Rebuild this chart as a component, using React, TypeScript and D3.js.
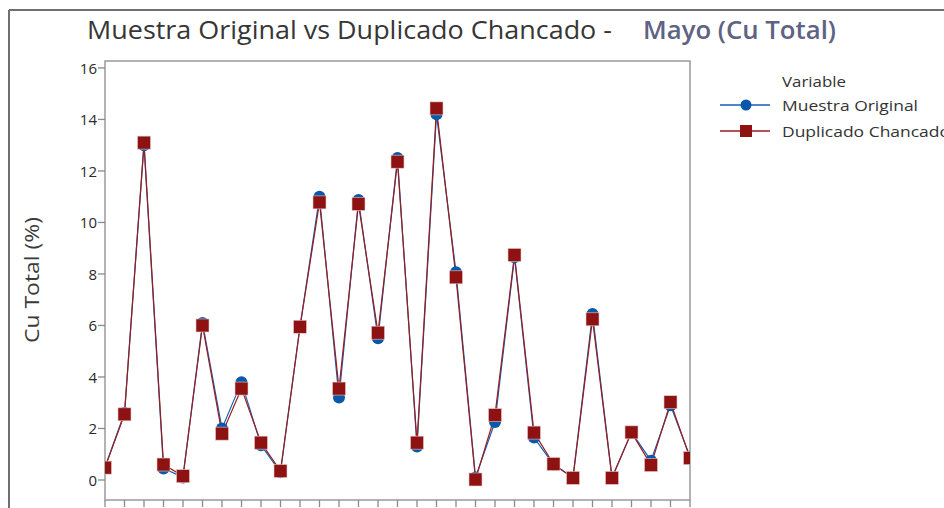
import React from "react";
import * as d3 from "d3";

const indices: number[] = Array.from({ length: 31 }, (_, i) => i);
const muestraOriginal: number[] = [
  0.5, 2.6, 13.0, 0.45, 0.1, 6.1, 2.0, 3.8, 1.35, 0.3, 5.95, 11.0, 3.2, 10.87, 5.5, 12.5,
  1.3, 14.2, 8.07, 0.1, 2.25, 8.65, 1.65, 0.6, 0.1, 6.45, 0.1, 1.85, 0.75, 2.9, 0.9,
];
const duplicadoChancado: number[] = [
  0.48, 2.55, 13.1, 0.6, 0.15, 6.0, 1.8, 3.55, 1.45, 0.35, 5.95, 10.78, 3.55, 10.72, 5.72, 12.36,
  1.45, 14.43, 7.87, 0.02, 2.52, 8.74, 1.84, 0.62, 0.08, 6.24, 0.08, 1.85, 0.58, 3.02, 0.85,
];
const yTicks: number[] = [0, 2, 4, 6, 8, 10, 12, 14, 16];
const seriesNames: string[] = ["Muestra Original", "Duplicado Chancado"];

const W = 944;
const H = 508;
const plot = { left: 105, right: 690, top: 61, bottom: 500 };
const BLUE = "#1560b8";
const BLUE_FILL = "#0a58aa";
const RED = "#9a1c1c";
const RED_FILL = "#8e1212";
const FONT = "'Open Sans', 'Noto Sans', sans-serif";

export default function App() {
  const x = d3.scaleLinear().domain([0, 30]).range([plot.left, plot.right]);
  const y = d3.scaleLinear().domain([-0.777, 16.27]).range([plot.bottom, plot.top]);
  const line = d3
    .line<number>()
    .x((_, i) => x(indices[i]))
    .y((d) => y(d));

  return (
    <svg
      width={W}
      height={H}
      style={{ position: "absolute", left: 0, top: 0, display: "block", background: "#fff" }}
      fontFamily={FONT}
    >
      <defs>
        <clipPath id="plotClip">
          <rect x={plot.left} y={plot.top} width={plot.right - plot.left} height={plot.bottom - plot.top} />
        </clipPath>
      </defs>
      {/* outer frame */}
      <line x1={9} x2={W} y1={10} y2={10} stroke="#6f6f6f" strokeWidth={2} />
      <line x1={9} x2={9} y1={10} y2={H} stroke="#6f6f6f" strokeWidth={2} />

      {/* title */}
      <text x={87} y={38.5} fontSize={25} fontWeight={500} fill="#363636" textLength={525} lengthAdjust="spacingAndGlyphs">
        Muestra Original vs  Duplicado Chancado -
      </text>
      <text x={643} y={38.5} fontSize={25} fontWeight={600} fill="#5e6283" textLength={193} lengthAdjust="spacingAndGlyphs">
        Mayo (Cu Total)
      </text>

      {/* plot frame */}
      <rect
        x={plot.left}
        y={plot.top}
        width={plot.right - plot.left}
        height={plot.bottom - plot.top}
        fill="#fff"
        stroke="#9a9a9a"
        strokeWidth={1.5}
      />

      {/* y axis ticks */}
      {yTicks.map((t) => (
        <g key={t}>
          <line x1={plot.left - 7} x2={plot.left} y1={y(t)} y2={y(t)} stroke="#8a8a8a" strokeWidth={1.3} />
          <text x={plot.left - 8} y={y(t)} fontSize={15} fontWeight={500} fill="#2a2a2a" textAnchor="end" dominantBaseline="central">
            {t}
          </text>
        </g>
      ))}
      {/* x ticks */}
      {indices.map((i) => (
        <line key={i} x1={x(i)} x2={x(i)} y1={plot.bottom} y2={plot.bottom + 7} stroke="#8a8a8a" strokeWidth={1.3} />
      ))}

      {/* y label */}
      <text
        transform={`translate(31,280) rotate(-90)`}
        fontSize={20}
        fill="#3a3a3a"
        textAnchor="middle"
        dominantBaseline="central"
        textLength={126}
        lengthAdjust="spacingAndGlyphs"
      >
        Cu Total (%)
      </text>

      {/* series */}
      <g clipPath="url(#plotClip)">
        <path d={line(muestraOriginal) || ""} fill="none" stroke={BLUE} strokeWidth={1.2} />
        <path d={line(duplicadoChancado) || ""} fill="none" stroke={RED} strokeWidth={1.2} />
        {muestraOriginal.map((v, i) => (
          <circle key={"b" + i} cx={x(indices[i])} cy={y(v)} r={6} fill={BLUE_FILL} />
        ))}
        {duplicadoChancado.map((v, i) => (
          <rect key={"r" + i} x={x(indices[i]) - 6.5} y={y(v) - 6.5} width={13} height={13} fill={RED_FILL} stroke="#e8c8c8" strokeWidth={0.6} />
        ))}
      </g>

      {/* legend */}
      <text x={782} y={87} fontSize={15} fill="#333" textLength={64} lengthAdjust="spacingAndGlyphs">
        Variable
      </text>
      <line x1={720} x2={770} y1={105} y2={105} stroke={BLUE} strokeWidth={1.5} />
      <circle cx={746} cy={105} r={5.5} fill={BLUE_FILL} />
      <text x={782} y={110.5} fontSize={15} fill="#333" textLength={136} lengthAdjust="spacingAndGlyphs">
        {seriesNames[0]}
      </text>
      <line x1={720} x2={770} y1={131} y2={131} stroke={RED} strokeWidth={1.5} />
      <rect x={740} y={125} width={12} height={12} fill={RED_FILL} />
      <text x={782} y={136.5} fontSize={15} fill="#333" textLength={168} lengthAdjust="spacingAndGlyphs">
        {seriesNames[1]}
      </text>
    </svg>
  );
}
